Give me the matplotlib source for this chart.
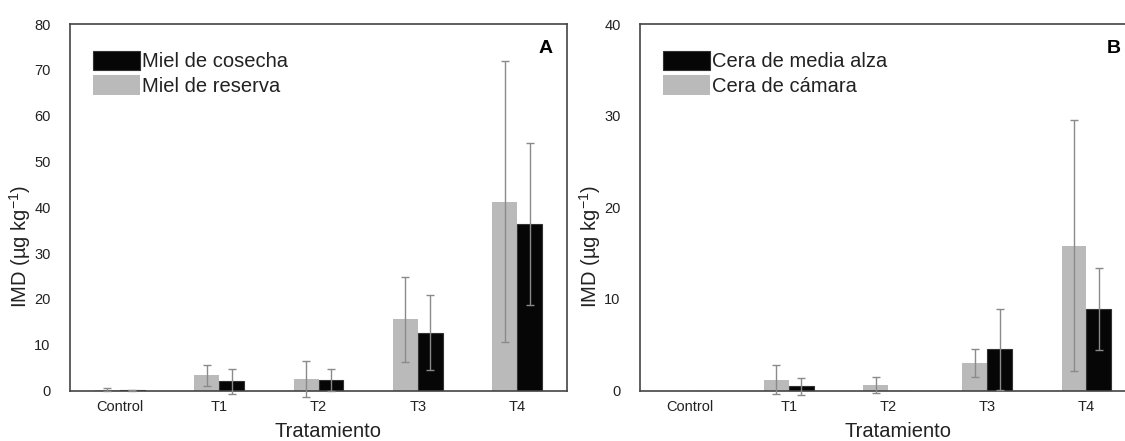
import numpy as np
import matplotlib.pyplot as plt

plt.rcParams['font.family'] = ['Liberation Sans', 'DejaVu Sans']

categories = ['Control', 'T1', 'T2', 'T3', 'T4']

# Panel A - miel
miel_reserva = [0.2, 3.3, 2.5, 15.5, 41.2]
miel_reserva_err = [0.3, 2.3, 3.9, 9.2, 30.7]
miel_cosecha = [0.1, 2.0, 2.3, 12.6, 36.3]
miel_cosecha_err = [0.1, 2.7, 2.4, 8.2, 17.7]

# Panel B - cera
cera_camara = [0.0, 1.2, 0.6, 3.0, 15.8]
cera_camara_err = [0.0, 1.6, 0.9, 1.5, 13.7]
cera_media_alza = [0.0, 0.45, 0.0, 4.5, 8.9]
cera_media_alza_err = [0.0, 0.95, 0.0, 4.4, 4.45]

GRAY = '#bababa'
BLACK = '#060606'
ERR = '#8a8a8a'
SPINE = '#444444'
TXT = '#222222'

fig = plt.figure(figsize=(11.25, 4.41), dpi=100)
axA = fig.add_axes([70 / 1125, 50.5 / 441, 497 / 1125, 366.5 / 441])
axB = fig.add_axes([640 / 1125, 50.5 / 441, 496 / 1125, 366.5 / 441])


def draw_panel(ax, gray, gray_err, black, black_err, labels, ymax, step, letter):
    x = np.arange(len(categories))
    w = 0.25
    ax.bar(x - w / 2, gray, w, color=GRAY, edgecolor='none', label=labels[1], zorder=2)
    ax.bar(x + w / 2, black, w, color=BLACK, edgecolor='#333333', linewidth=0.8,
           label=labels[0], zorder=2)
    for xs, ys, es in [(x - w / 2, gray, gray_err), (x + w / 2, black, black_err)]:
        ys = np.array(ys)
        es = np.array(es)
        m = es > 0
        ax.errorbar(xs[m], ys[m], yerr=es[m], fmt='none', ecolor=ERR,
                    elinewidth=1.0, capsize=3.2, capthick=1.0, zorder=3,
                    clip_on=False)
    ax.set_xlim(-0.5, 4.5)
    ax.set_ylim(0, ymax)
    ax.set_yticks(np.arange(0, ymax + 1, step))
    ax.set_xticks(x)
    ax.set_xticklabels(categories)
    ax.tick_params(axis='both', length=0, labelsize=10.5, colors=TXT)
    ax.tick_params(axis='y', pad=14)
    ax.tick_params(axis='x', pad=7)
    for s in ax.spines.values():
        s.set_color(SPINE)
        s.set_linewidth(1.2)
    ax.set_xlabel('Tratamiento', fontsize=14.5, color=TXT)
    ax.xaxis.set_label_coords(0.52, -0.087)
    ax.set_ylabel('IMD (µg kg$^{\\mathregular{-1}}$)', fontsize=14.5, color=TXT)
    ax.yaxis.set_label_coords(-0.074, 0.394)
    ax.text(0.956, 0.934, letter, transform=ax.transAxes, fontsize=14,
            fontweight='bold', ha='center', va='center', color='black')
    h, l = ax.get_legend_handles_labels()
    leg = ax.legend(h[::-1], l[::-1], loc='upper left',
                    bbox_to_anchor=(0.047, 0.927), frameon=False,
                    fontsize=14.5, handlelength=2.3, handleheight=1.1,
                    handletextpad=0.1, labelspacing=0.2, borderaxespad=0,
                    borderpad=0)
    for t in leg.get_texts():
        t.set_color(TXT)


draw_panel(axA, miel_reserva, miel_reserva_err, miel_cosecha, miel_cosecha_err,
           ['Miel de cosecha', 'Miel de reserva'], 80, 10, 'A')
draw_panel(axB, cera_camara, cera_camara_err, cera_media_alza, cera_media_alza_err,
           ['Cera de media alza', 'Cera de cámara'], 40, 10, 'B')

fig.savefig('out.png', dpi=100)
